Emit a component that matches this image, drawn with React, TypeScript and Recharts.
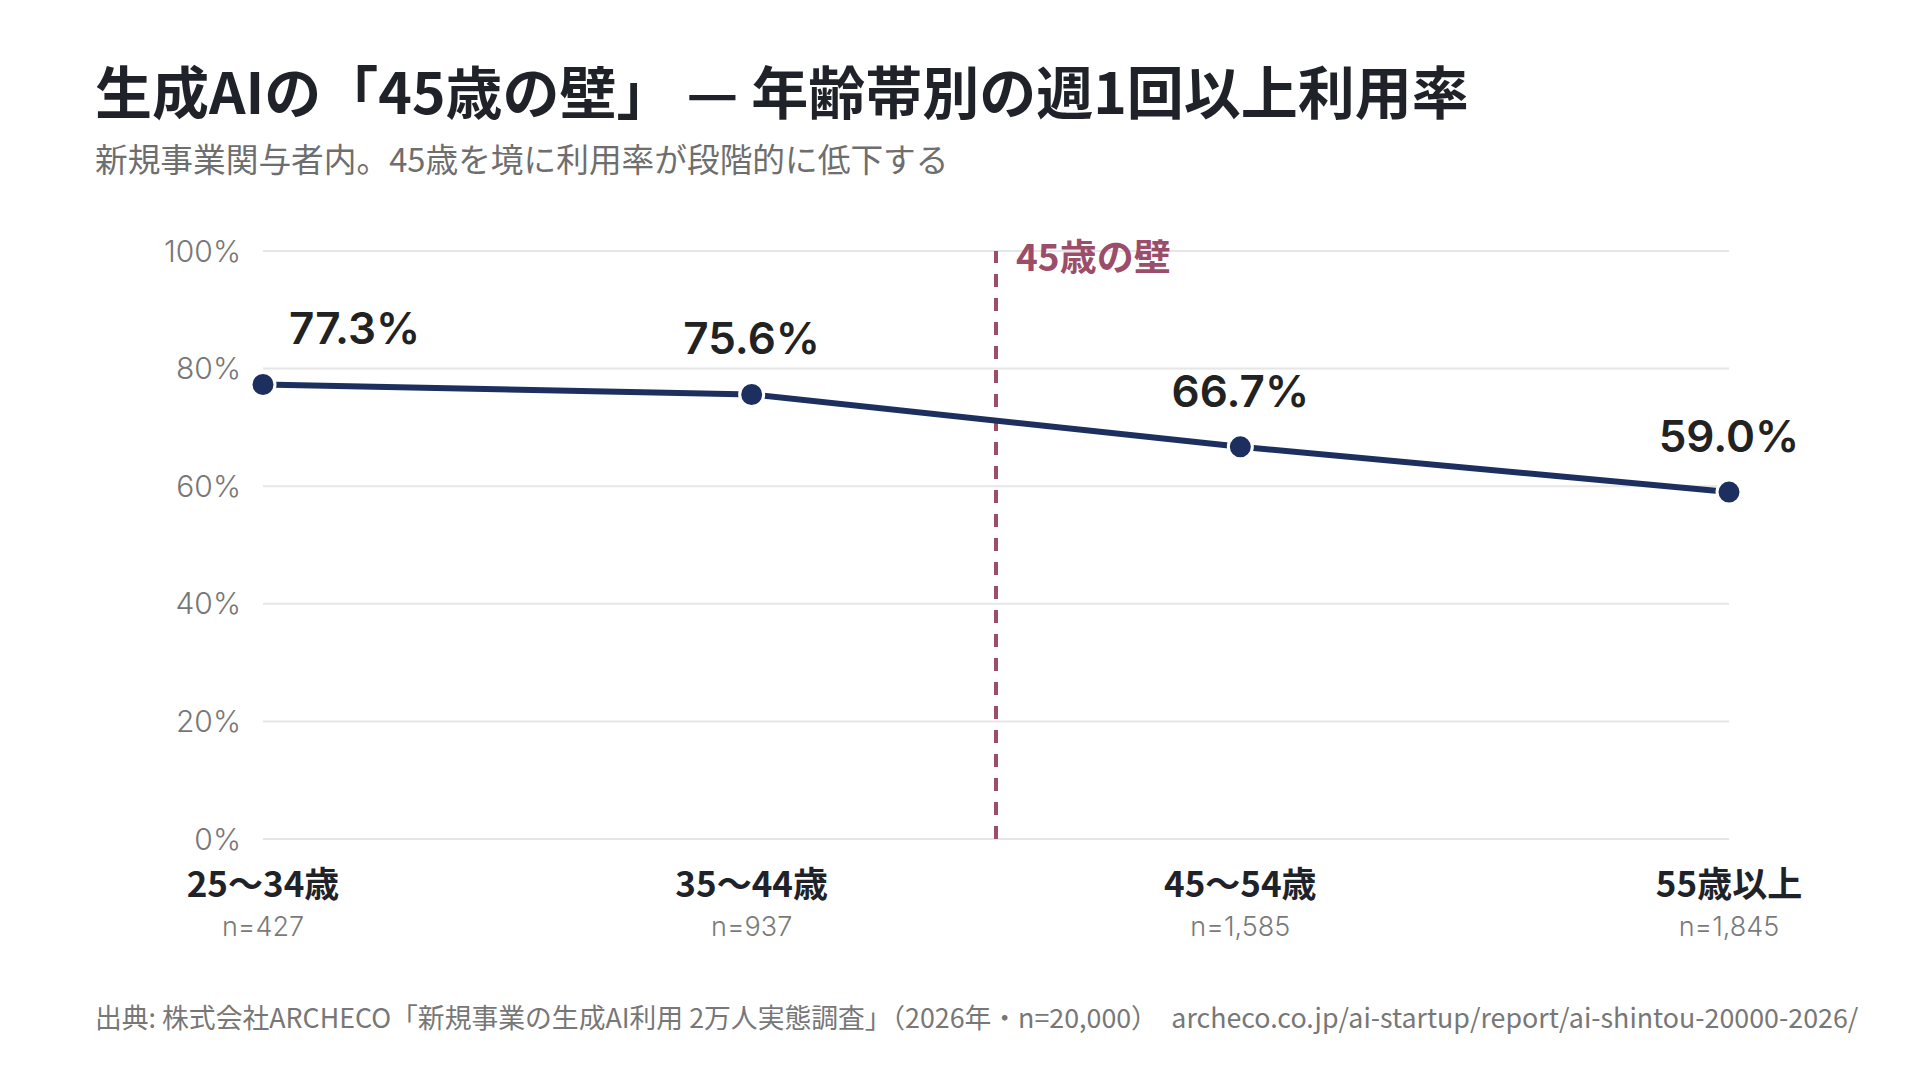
import React from 'react';
import {
  LineChart,
  Line,
  XAxis,
  YAxis,
  CartesianGrid,
  ReferenceLine,
  LabelList,
} from 'recharts';

const categories = ['25〜34歳', '35〜44歳', '45〜54歳', '55歳以上'];
const sampleSizes = ['n=427', 'n=937', 'n=1,585', 'n=1,845'];
const weeklyUseRate = [77.3, 75.6, 66.7, 59.0];
const yTicks = [0, 20, 40, 60, 80, 100];
const wallPosition = 1.5; // between 35〜44歳 and 45〜54歳
const wallLabel = '45歳の壁';

const data = categories.map((c, i) => ({
  idx: i,
  category: c,
  n: sampleSizes[i],
  value: weeklyUseRate[i],
}));

const LATIN = 'Inter, "Noto Sans CJK JP", sans-serif';
const CJK = '"Noto Sans CJK JP", "Noto Sans", sans-serif';
const NAVY = '#1d2f5e';
const WALL = '#9b4d6a';

const XTick = (props: any) => {
  const { x, y, payload } = props;
  const i = payload.value as number;
  return (
    <g>
      <text
        x={x}
        y={y + 42}
        textAnchor="middle"
        dominantBaseline="central"
        fontFamily={CJK}
        fontWeight={700}
        fontSize={35}
        fill="#1f2329"
      >
        {categories[i]}
      </text>
      <text
        x={x}
        y={y + 87}
        textAnchor="middle"
        dominantBaseline="central"
        fontFamily={LATIN}
        fontWeight={300}
        fontSize={27}
        fill="#7a7a7a"
      >
        {sampleSizes[i]}
      </text>
    </g>
  );
};

const ValueLabel = (props: any) => {
  const { x, y, value, index } = props;
  const first = index === 0;
  return (
    <text
      x={first ? x + 26 : x}
      y={y - 56}
      textAnchor={first ? 'start' : 'middle'}
      dominantBaseline="central"
      fontFamily={LATIN}
      fontWeight={600}
      fontSize={44}
      fill="#222"
    >
      {`${Number(value).toFixed(1)}%`}
    </text>
  );
};

const WallLabel = (props: any) => {
  const vb = props.viewBox || {};
  return (
    <text
      x={vb.x + 20}
      y={255}
      dominantBaseline="central"
      fontFamily={CJK}
      fontWeight={700}
      fontSize={37}
      fill={WALL}
    >
      {wallLabel}
    </text>
  );
};

export default function App() {
  return (
    <div
      style={{
        position: 'absolute',
        left: 0,
        top: 0,
        width: 1920,
        height: 1080,
        background: '#fff',
        overflow: 'hidden',
      }}
    >
      <div
        style={{
          position: 'absolute',
          left: 95,
          top: 59,
          fontFamily: CJK,
          fontWeight: 700,
          fontSize: 57,
          lineHeight: '60px',
          color: '#1f2329',
          whiteSpace: 'nowrap',
        }}
      >
        生成AIの「45歳の壁」 — 年齢帯別の週1回以上利用率
      </div>
      <div
        style={{
          position: 'absolute',
          left: 95,
          top: 140,
          fontFamily: CJK,
          fontWeight: 400,
          fontSize: 32.7,
          lineHeight: '36px',
          color: '#6e6e6e',
          whiteSpace: 'nowrap',
        }}
      >
        新規事業関与者内。45歳を境に利用率が段階的に低下する
      </div>
      <div style={{ position: 'absolute', left: 0, top: 0 }}>
        <LineChart
          width={1920}
          height={1080}
          data={data}
          margin={{ top: 251, right: 191, bottom: 141, left: 163 }}
        >
          <CartesianGrid
            horizontal={true}
            vertical={false}
            stroke="#e6e6e6"
            strokeWidth={2}
          />
          <XAxis
            type="number"
            dataKey="idx"
            domain={[0, 3]}
            ticks={[0, 1, 2, 3]}
            axisLine={false}
            tickLine={false}
            tickSize={0}
            tickMargin={0}
            height={100}
            tick={<XTick />}
            interval={0}
          />
          <YAxis
            domain={[0, 100]}
            ticks={yTicks}
            axisLine={false}
            tickLine={false}
            tickSize={0}
            tickMargin={22}
            width={100}
            tickFormatter={(v: number) => `${v}%`}
            tick={{
              fontFamily: LATIN,
              fontWeight: 300,
              fontSize: 30,
              fill: '#777',
            }}
          />
          <ReferenceLine
            x={wallPosition}
            stroke={WALL}
            strokeWidth={4}
            strokeDasharray="13 11"
            label={<WallLabel />}
          />
          <Line
            type="linear"
            dataKey="value"
            stroke={NAVY}
            strokeWidth={6}
            dot={{ r: 12, fill: NAVY, stroke: '#fff', strokeWidth: 3 }}
            activeDot={false}
            isAnimationActive={false}
          >
            <LabelList dataKey="value" content={<ValueLabel />} />
          </Line>
        </LineChart>
      </div>
      <div
        style={{
          position: 'absolute',
          left: 95,
          top: 1002,
          fontFamily: CJK,
          fontWeight: 400,
          fontSize: 26.8,
          lineHeight: '30px',
          color: '#777',
          whiteSpace: 'nowrap',
        }}
      >
        出典: 株式会社ARCHECO「新規事業の生成AI利用 2万人実態調査」（2026年・n=20,000）　archeco.co.jp/ai-startup/report/ai-shintou-20000-2026/
      </div>
    </div>
  );
}
